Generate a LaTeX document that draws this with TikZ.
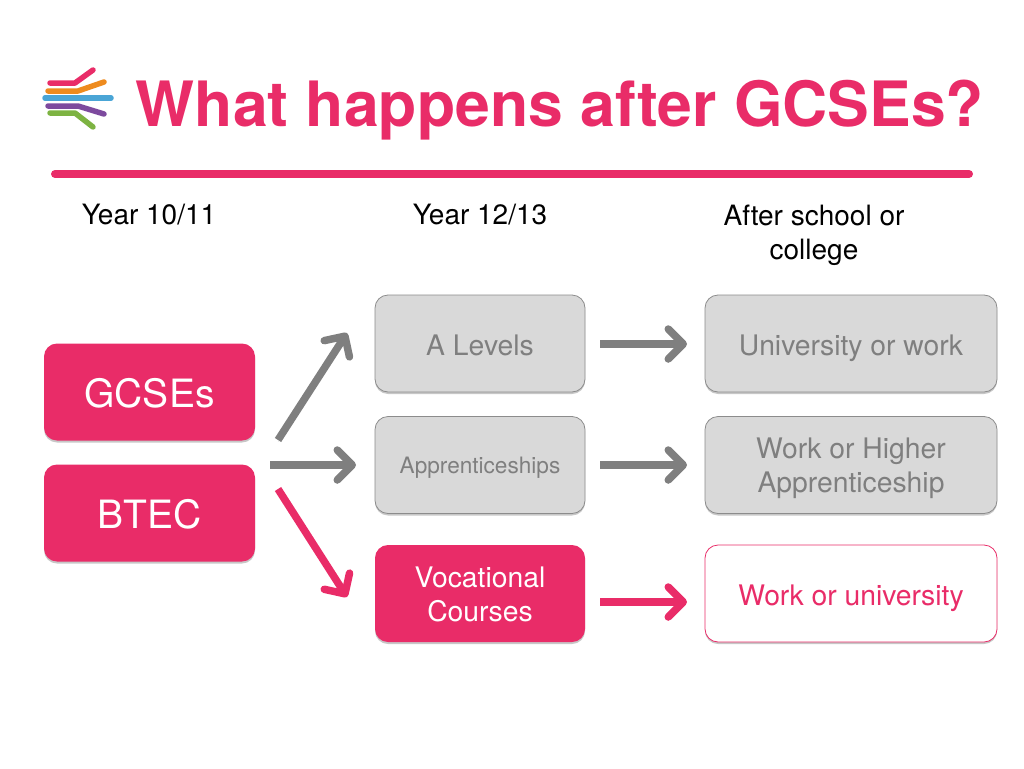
\documentclass[tikz,border=0pt]{standalone}
\usepackage{fontspec}
\setmainfont{TeX Gyre Heros}
\usetikzlibrary{arrows.meta,shadows}
\definecolor{gcsepink}{HTML}{E92C68}
\definecolor{boxgrey}{HTML}{D9D9D9}
\definecolor{edgegrey}{HTML}{8C8C8C}
\definecolor{textgrey}{HTML}{7F7F7F}
\definecolor{logoorange}{HTML}{EE8B1E}
\definecolor{logoblue}{HTML}{4AA5D6}
\definecolor{logopurple}{HTML}{7D4A9E}
\definecolor{logogreen}{HTML}{7DB342}
\tikzset{
	card/.style={rounded corners=13pt,minimum height=97pt,align=center,inner sep=0pt,
		font=\fontsize{28.3}{34}\selectfont,text height=29pt,text depth=6pt,
		drop shadow={shadow xshift=0pt,shadow yshift=-2pt,opacity=.22,fill=black}},
	greycard/.style={card,draw=edgegrey,line width=.8pt,fill=boxgrey,text=textgrey},
	pinkcard/.style={card,fill=gcsepink,text=white},
	bigcard/.style={pinkcard,minimum width=211pt,font=\fontsize{39}{44}\selectfont,text height=31pt,text depth=0pt},
	heading/.style={font=\fontsize{28}{34}\selectfont,align=center,inner sep=0pt},
	flow/.style={line width=7.5pt,-{Straight Barb[length=15pt,width=30pt,line cap=round,round]},
		preaction={draw=black,opacity=.12,transform canvas={yshift=-2pt}}},
	strand/.style={line width=5.5pt,line cap=round,line join=round}
}
\begin{document}
\begin{tikzpicture}[x=1pt,y=-1pt]
\useasboundingbox (0,0) rectangle (1024,768);
\draw [strand,gcsepink] (50,83) -- (75,83) -- (93,70);
\draw [strand,logoorange] (48,91) -- (78,91) -- (104,82);
\draw [strand,logoblue] (45,98) -- (111,98);
\draw [strand,logopurple] (48,106) -- (78,106) -- (104,114);
\draw [strand,logogreen] (50,113) -- (75,113) -- (93,127);
\path (560,110) node (title) [inner sep=0pt,text=gcsepink,font=\fontsize{62.5}{70}\selectfont\bfseries] {What happens after GCSEs?}
		(149,215) node (year) [heading] {Year 10/11}
		(480,215) node (sixth) [heading] {Year 12/13}
		(814,235) node (after) [heading] {After school or\\college}
		(149.5,392) node (gcses) [bigcard] {GCSEs}
		(149.5,513) node (btec) [bigcard] {BTEC}
		(480,343.5) node (alevels) [greycard,minimum width=210pt] {A Levels}
		(480,465) node (appr) [greycard,minimum width=210pt,font=\fontsize{22.6}{28}\selectfont,text height=22.5pt,text depth=5pt] {Apprenticeships}
		(480,593.5) node (voc) [pinkcard,minimum width=210pt,text height=56.5pt,text depth=0pt] {Vocational\\Courses}
		(851,343.5) node (uni) [greycard,minimum width=292pt] {University or work}
		(851,465) node (higher) [greycard,minimum width=292pt,text height=60.5pt] {Work or Higher\\Apprenticeship}
		(851,593.5) node (workuni) [card,draw=gcsepink,line width=.8pt,fill=white,text=gcsepink,minimum width=292pt] {Work or university}
		;
\coordinate (upfrom) at (278,440);
\coordinate (upto) at (347,333);
\coordinate (midfrom) at (270,465);
\coordinate (midto) at (356,465);
\coordinate (downfrom) at (278,489);
\coordinate (downto) at (347,597);
\coordinate (afrom) at (600,344);
\coordinate (ato) at (687,344);
\coordinate (bfrom) at (600,465);
\coordinate (bto) at (687,465);
\coordinate (cfrom) at (600,602);
\coordinate (cto) at (687,602);
\draw [line width=8pt,line cap=round,gcsepink] (55,174) -- (969,174);
\draw [flow,textgrey] (upfrom) -- (upto);
\draw [flow,textgrey] (midfrom) -- (midto);
\draw [flow,gcsepink] (downfrom) -- (downto);
\draw [flow,textgrey] (afrom) -- (ato);
\draw [flow,textgrey] (bfrom) -- (bto);
\draw [flow,gcsepink] (cfrom) -- (cto);
\end{tikzpicture}
\end{document}
